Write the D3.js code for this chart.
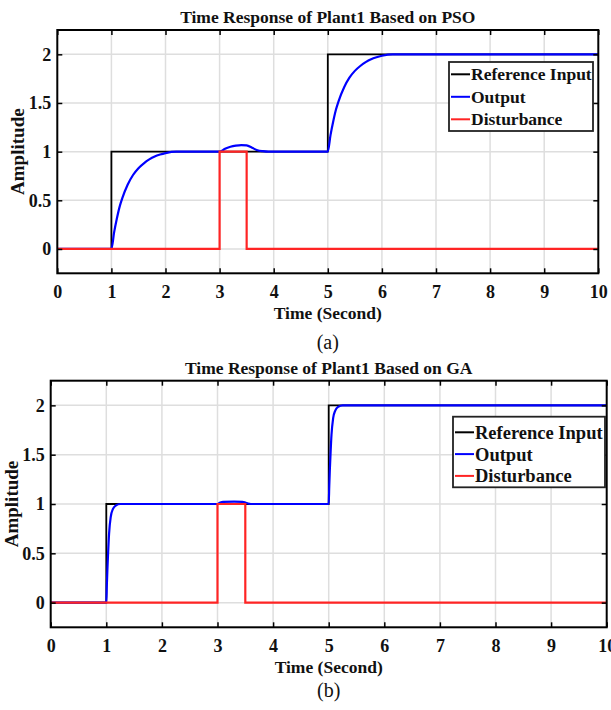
<!DOCTYPE html>
<html>
<head>
<meta charset="utf-8">
<script src="https://cdn.jsdelivr.net/npm/d3@7"></script>
<style>
  body { margin: 0; background: #fff; }
  text { font-family: "Liberation Serif", "Times New Roman", serif; font-weight: bold; fill: #111; }
</style>
</head>
<body>
<svg id="fig" width="611" height="710"></svg>
<script>
// ---- data ----
const xTicks = [0, 1, 2, 3, 4, 5, 6, 7, 8, 9, 10];
const yTicks = [0, 0.5, 1, 1.5, 2];
const yTickLabels = ["0", "0.5", "1", "1.5", "2"];

const legendNames = ["Reference Input", "Output", "Disturbance"];
const seriesColors = ["#000000", "#0000ff", "#ff2424"];

// reference step input
const refT = [0, 1, 1, 5, 5, 10];
const refV = [0, 0, 1, 1, 2, 2];

// disturbance pulse
const distT = [0, 3, 3, 3.5, 3.5, 10];
const distV = [0, 0, 1, 1, 0, 0];

// output, PSO tuned
const psoT = [0, 1, 1.05, 1.1, 1.15, 1.2, 1.3, 1.4, 1.5, 1.6, 1.7, 1.8, 1.9, 2.0, 2.2,
              3.0, 3.1, 3.2, 3.3, 3.4, 3.5, 3.6, 3.7, 3.8, 3.9,
              5.0, 5.05, 5.1, 5.15, 5.2, 5.3, 5.4, 5.5, 5.6, 5.7, 5.8, 5.9, 6.0, 6.2, 10];
const psoV = [0, 0, 0.17, 0.31, 0.43, 0.52, 0.66, 0.76, 0.83, 0.88, 0.92, 0.95, 0.97, 0.985, 1.0,
              1.0, 1.03, 1.05, 1.062, 1.068, 1.065, 1.04, 1.015, 1.005, 1.0,
              1.0, 1.17, 1.31, 1.43, 1.52, 1.66, 1.76, 1.83, 1.88, 1.92, 1.95, 1.97, 1.985, 2.0, 2.0];

// output, GA tuned
const gaT = [0, 1, 1.01, 1.02, 1.03, 1.05, 1.08, 1.12, 1.17, 1.25,
             3.0, 3.05, 3.1, 3.3, 3.45, 3.5, 3.55, 3.6,
             5.0, 5.01, 5.02, 5.03, 5.05, 5.08, 5.12, 5.17, 5.25, 10];
const gaV = [0, 0, 0.18, 0.34, 0.47, 0.7, 0.87, 0.95, 0.985, 1.0,
             1.0, 1.015, 1.022, 1.025, 1.022, 1.015, 1.005, 1.0,
             1.0, 1.18, 1.34, 1.47, 1.7, 1.87, 1.95, 1.985, 2.0, 2.0];

const svg = d3.select("#fig");

function zip(ts, vs) { return ts.map((t, i) => ({ t: t, v: vs[i] })); }

function drawPanel(p) {
  let x = d3.scaleLinear().domain([0, 10]).range([p.left, p.right]);
  let y = d3.scaleLinear().domain([-0.25, 2.25]).range([p.bottom, p.top]);
  let g = svg.append("g");

  // grid
  g.selectAll(".gx").data(xTicks.slice(1, -1)).enter().append("line")
    .attr("x1", d => x(d)).attr("x2", d => x(d))
    .attr("y1", p.top).attr("y2", p.bottom)
    .attr("stroke", "#dedede").attr("stroke-width", 1.5);
  g.selectAll(".gy").data(yTicks).enter().append("line")
    .attr("y1", d => y(d)).attr("y2", d => y(d))
    .attr("x1", p.left).attr("x2", p.right)
    .attr("stroke", "#dedede").attr("stroke-width", 1.5);

  // series: reference, output, disturbance (last on top)
  let step = d3.line().x(d => x(d.t)).y(d => y(d.v));
  let smooth = d3.line().x(d => x(d.t)).y(d => y(d.v)).curve(d3.curveMonotoneX);
  let clipId = "clip" + p.id;
  g.append("clipPath").attr("id", clipId).append("rect")
    .attr("x", p.left).attr("y", p.top)
    .attr("width", p.right - p.left).attr("height", p.bottom - p.top);
  let lines = g.append("g").attr("clip-path", `url(#${clipId})`);
  lines.append("path").attr("d", step(zip(refT, refV)))
    .attr("fill", "none").attr("stroke", seriesColors[0]).attr("stroke-width", 1.8);
  lines.append("path").attr("d", smooth(zip(p.outT, p.outV)))
    .attr("fill", "none").attr("stroke", seriesColors[1]).attr("stroke-width", 2.2);
  lines.append("path").attr("d", step(zip(distT, distV)))
    .attr("fill", "none").attr("stroke", seriesColors[2]).attr("stroke-width", 2.2);

  // axes, MATLAB style box with inward ticks on all sides
  let tl = 5;
  g.append("g").attr("transform", `translate(0,${p.bottom})`)
    .call(d3.axisBottom(x).tickValues(xTicks).tickSizeInner(-tl).tickSizeOuter(0).tickPadding(12))
    .call(a => a.select(".domain").remove());
  g.append("g").attr("transform", `translate(0,${p.top})`)
    .call(d3.axisTop(x).tickValues(xTicks).tickSizeInner(-tl).tickSizeOuter(0).tickFormat(""))
    .call(a => a.select(".domain").remove());
  g.append("g").attr("transform", `translate(${p.left},0)`)
    .call(d3.axisLeft(y).tickValues(yTicks).tickSizeInner(-tl).tickSizeOuter(0).tickPadding(6)
      .tickFormat((d, i) => yTickLabels[i]))
    .call(a => a.select(".domain").remove());
  g.append("g").attr("transform", `translate(${p.right},0)`)
    .call(d3.axisRight(y).tickValues(yTicks).tickSizeInner(-tl).tickSizeOuter(0).tickFormat(""))
    .call(a => a.select(".domain").remove());
  g.selectAll(".tick line").attr("stroke", "#000").attr("stroke-width", 1.5);
  g.selectAll(".tick text").style("font-size", "18px")
    .style("font-family", "'Liberation Serif', serif").style("font-weight", "bold").attr("fill", "#111");

  g.append("rect")
    .attr("x", p.left).attr("y", p.top)
    .attr("width", p.right - p.left).attr("height", p.bottom - p.top)
    .attr("fill", "none").attr("stroke", "#000").attr("stroke-width", 2);

  // labels
  g.append("text").attr("x", (p.left + p.right) / 2).attr("y", p.top - 7)
    .attr("text-anchor", "middle").style("font-size", "17.5px").text(p.title);
  g.append("text").attr("x", (p.left + p.right) / 2).attr("y", p.bottom + 46)
    .attr("text-anchor", "middle").style("font-size", "17.5px").text("Time (Second)");
  g.append("text")
    .attr("transform", `translate(${p.ylabX},${(p.top + p.bottom) / 2}) rotate(-90)`)
    .attr("text-anchor", "middle").attr("dy", "0.35em").style("font-size", "19px").text("Amplitude");
  g.append("text").attr("x", (p.left + p.right) / 2).attr("y", p.bottom + p.capOff)
    .attr("text-anchor", "middle").style("font-size", "20px").style("font-weight", "normal")
    .text(p.caption);

  // legend
  let lg = g.append("g").attr("transform", `translate(${p.legX},${p.legY})`);
  lg.append("rect").attr("width", p.legW).attr("height", p.legH)
    .attr("fill", "#fff").attr("stroke", "#222").attr("stroke-width", 1.8);
  legendNames.forEach((name, i) => {
    let cy = p.legRow0 + i * p.legStep;
    lg.append("line").attr("x1", 2).attr("x2", 21).attr("y1", cy).attr("y2", cy)
      .attr("stroke", seriesColors[i]).attr("stroke-width", 2);
    lg.append("text").attr("x", 22).attr("y", cy).attr("dy", "0.35em")
      .style("font-size", p.legFont + "px").text(name);
  });
}

drawPanel({
  id: "a", left: 57.3, right: 598.3, top: 30, bottom: 273.3,
  title: "Time Response of Plant1 Based on PSO", caption: "(a)", capOff: 76, ylabX: 17,
  outT: psoT, outV: psoV,
  legX: 449, legY: 62, legW: 144, legH: 69, legRow0: 12.3, legStep: 22.5, legFont: 17.5
});
drawPanel({
  id: "b", left: 50.7, right: 606.7, top: 380.7, bottom: 627.3,
  title: "Time Response of Plant1 Based on GA", caption: "(b)", capOff: 70, ylabX: 11,
  outT: gaT, outV: gaV,
  legX: 453, legY: 416.7, legW: 152, legH: 70.6, legRow0: 15.6, legStep: 21.8, legFont: 18.5
});
</script>
</body>
</html>
